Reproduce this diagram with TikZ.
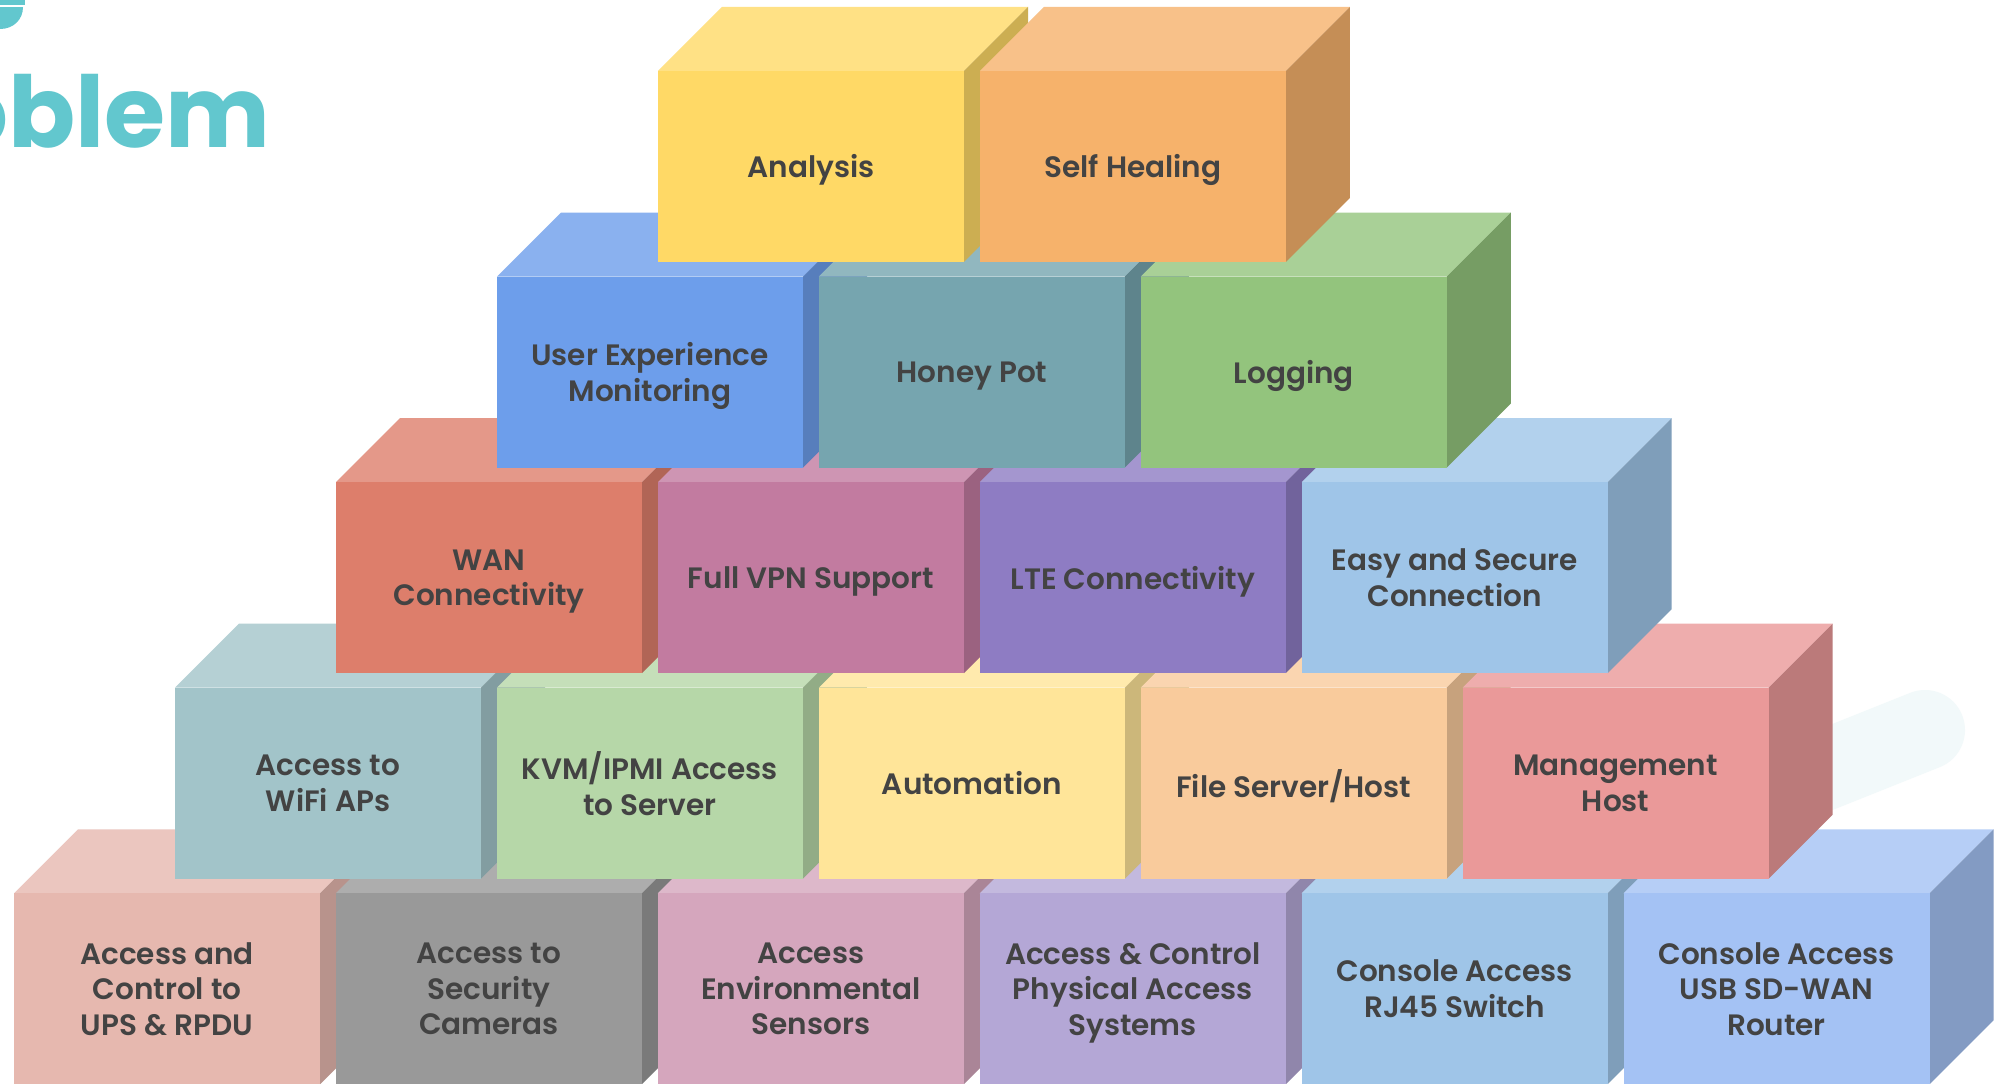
\documentclass[tikz,border=0pt]{standalone}
\usepackage{fontspec}
\newfontfamily\boxfont{Poppins SemiBold}
\newfontfamily\titlefont{Poppins Bold}
\definecolor{txt}{HTML}{434343}
\definecolor{titlec}{HTML}{62C7CE}
\definecolor{blob}{HTML}{F2F9FA}
\definecolor{cAnalysis}{HTML}{FFD966}
\definecolor{cSelf}{HTML}{F6B26B}
\definecolor{cUser}{HTML}{6D9EEB}
\definecolor{cHoney}{HTML}{76A5AF}
\definecolor{cLog}{HTML}{93C47D}
\definecolor{cWan}{HTML}{DD7E6B}
\definecolor{cVpn}{HTML}{C27BA0}
\definecolor{cLte}{HTML}{8E7CC3}
\definecolor{cEasy}{HTML}{9FC5E8}
\definecolor{cWifi}{HTML}{A2C4C9}
\definecolor{cKvm}{HTML}{B6D7A8}
\definecolor{cAuto}{HTML}{FFE599}
\definecolor{cFile}{HTML}{F9CB9C}
\definecolor{cMgmt}{HTML}{EA9999}
\definecolor{cUps}{HTML}{E6B8AF}
\definecolor{cCam}{HTML}{999999}
\definecolor{cEnv}{HTML}{D5A6BD}
\definecolor{cPhys}{HTML}{B4A7D6}
\definecolor{cRj}{HTML}{9FC5E8}
\definecolor{cUsb}{HTML}{A4C2F4}
\tikzset{
  boxnode/.style={anchor=north west, minimum width=306pt, minimum height=191pt,
    inner sep=0pt, outer sep=0pt, align=center, text=txt, text depth=0pt,
    font=\boxfont\fontsize{29.5}{35.7}\selectfont},
}
% name, x, y (front top-left), colour, text
\newcommand\cubebox[5]{%
  \fill[#4!80!white] (#2,#3) -- ++(64,-64) -- ++(306,0) -- ++(-64,64) -- cycle;
  \fill[#4!80!black] (#2+306,#3) -- ++(64,-64) -- ++(0,191) -- ++(-64,64) -- cycle;
  \node[boxnode, fill=#4] (#1) at (#2,#3) {#5};
}
\begin{document}
\begin{tikzpicture}[x=1pt,y=-1pt]
\useasboundingbox (0,0) rectangle (1998,1084);
\clip (0,0) rectangle (1998,1084);
\fill[white] (0,0) rectangle (1998,1084);
% faint decoration
\draw[blob, line width=80pt, line cap=round] (1790,784) -- (1925,730);
% title fragments
\fill[titlec] (0,0) rectangle (25,5);
\fill[titlec] (0,7) -- (23,7) .. controls (23,20) and (13,29) .. (0,29) -- cycle;
\node[font=\titlefont\fontsize{99}{99}\selectfont, text=titlec, anchor=base east, inner sep=0pt] (title) at (271,147) {Problem};
% row 5 (bottom)
\cubebox{ups}{14}{893.3}{cUps}{Access and\\Control to\\UPS \& RPDU}
\cubebox{cam}{335.9}{893.3}{cCam}{Access to\\Security\\Cameras}
\cubebox{env}{657.8}{893.3}{cEnv}{Access\\Environmental\\Sensors}
\cubebox{phys}{979.7}{893.3}{cPhys}{Access \& Control\\Physical Access\\Systems}
\cubebox{rj}{1301.6}{893.3}{cRj}{Console Access\\RJ45 Switch}
\cubebox{usb}{1623.5}{893.3}{cUsb}{Console Access\\USB SD-WAN\\Router}
% row 4
\cubebox{wifi}{175}{687.7}{cWifi}{Access to\\WiFi APs}
\cubebox{kvm}{496.9}{687.7}{cKvm}{KVM/IPMI Access\\to Server}
\cubebox{auto}{818.8}{687.7}{cAuto}{Automation}
\cubebox{file}{1140.7}{687.7}{cFile}{File Server/Host}
\cubebox{mgmt}{1462.6}{687.7}{cMgmt}{Management\\Host}
% row 3
\cubebox{wan}{336}{482.1}{cWan}{WAN\\Connectivity}
\cubebox{vpn}{657.9}{482.1}{cVpn}{Full VPN Support}
\cubebox{lte}{979.8}{482.1}{cLte}{LTE Connectivity}
\cubebox{easy}{1301.7}{482.1}{cEasy}{Easy and Secure\\Connection}
% row 2
\cubebox{user}{497}{276.5}{cUser}{User Experience\\Monitoring}
\cubebox{honey}{818.9}{276.5}{cHoney}{Honey Pot}
\cubebox{log}{1140.8}{276.5}{cLog}{Logging}
% row 1 (top)
\cubebox{analysis}{658}{70.9}{cAnalysis}{Analysis}
\cubebox{self}{979.9}{70.9}{cSelf}{Self Healing}
\end{tikzpicture}
\end{document}
